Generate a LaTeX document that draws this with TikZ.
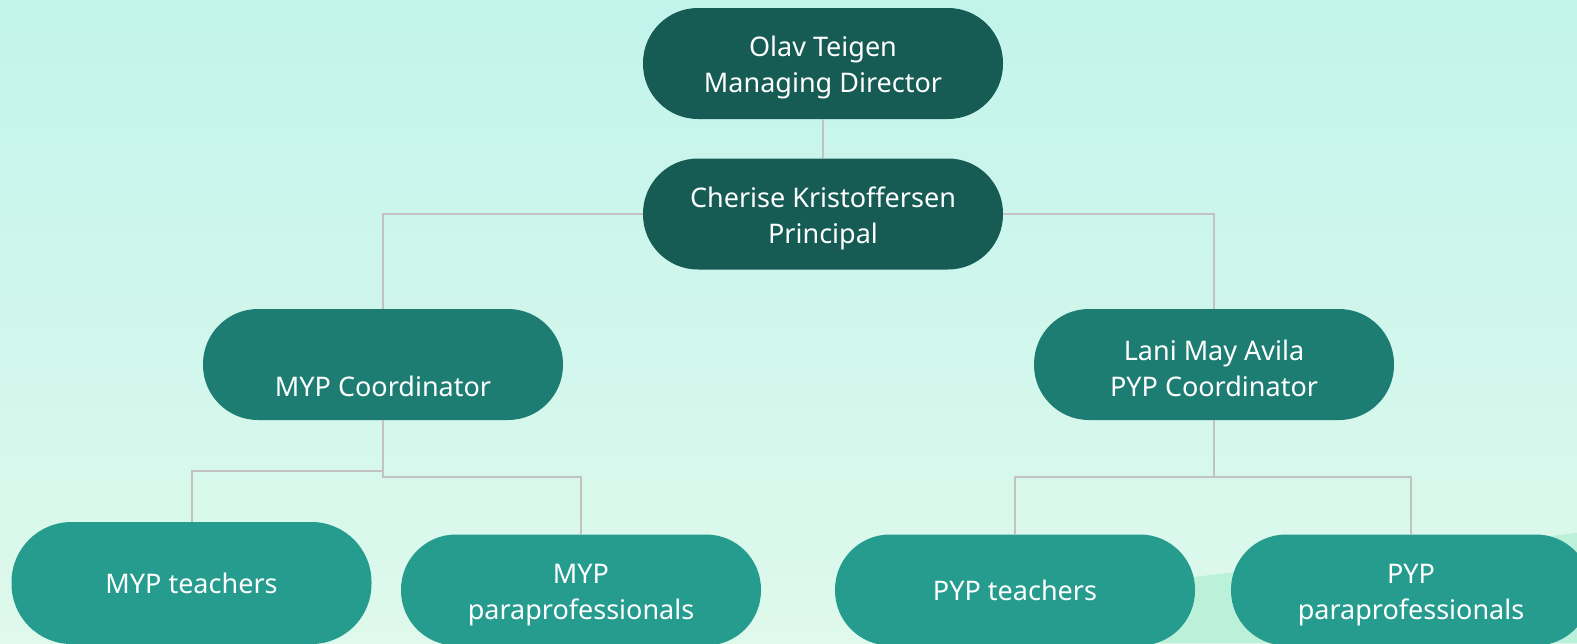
\documentclass[tikz,border=0pt]{standalone}
\usepackage{fontspec}
\setmainfont{Noto Sans}
\usetikzlibrary{calc}
\definecolor{bgtop}{HTML}{C2F4EC}
\definecolor{bgbot}{HTML}{DFF9EC}
\definecolor{wedge}{HTML}{BBF1D8}
\definecolor{lvlone}{HTML}{165C55}
\definecolor{lvltwo}{HTML}{1D7D72}
\definecolor{lvlthree}{HTML}{269C8F}
\definecolor{linkgray}{HTML}{C2C2C2}
% taller first line keeps two-line labels optically centred
\newcommand\firstline{\rule{0pt}{28.5pt}}
\tikzset{
  card/.style={rectangle, minimum width=360pt, minimum height=111pt,
    rounded corners=55pt, text=white, align=center, inner sep=0pt,
    font=\fontsize{27pt}{36pt}\selectfont},
  topcard/.style={card, fill=lvlone},
  midcard/.style={card, fill=lvltwo},
  lowcard/.style={card, fill=lvlthree},
  link/.style={draw=linkgray, line width=2pt}
}
\begin{document}
\begin{tikzpicture}[x=1pt, y=-1pt]
\useasboundingbox (0,0) rectangle (1577,643);
% backdrop
\shade[top color=bgtop, bottom color=bgbot] (0,0) rectangle (1577,643);
\fill[wedge] (950,605) -- (1577,533) -- (1577,643) -- (950,643) -- cycle;

% nodes
\node[topcard] (dir)  at (823,63.5) {\firstline Olav Teigen\\Managing Director};
\node[topcard] (prin) at (823,214)  {\firstline Cherise Kristoffersen\\Principal};
\node[midcard] (mypc) at (383,364.5) {\firstline\\MYP Coordinator};
\node[midcard] (pypc) at (1214,364.5) {\firstline Lani May Avila\\PYP Coordinator};
\node[lowcard, minimum height=122pt, rounded corners=60pt] (mypt) at (191.5,583) {MYP teachers};
\node[lowcard] (myppara) at (581,590) {\firstline MYP\\paraprofessionals};
\node[lowcard] (pypt) at (1015,590) {PYP teachers};
\node[lowcard] (pyppara) at (1411,590) {\firstline PYP\\paraprofessionals};

% connectors
\draw[link] (dir) -- (prin);
\draw[link] (prin.west) -| (mypc.north);
\draw[link] (prin.east) -| (pypc.north);
\draw[link] (mypc.south) -- (mypc.south |- 0,471) -| (mypt.north);
\draw[link] (mypc.south) -- (mypc.south |- 0,477) -| (myppara.north);
\draw[link] (pypc.south) -- (pypc.south |- 0,477) -| (pypt.north);
\draw[link] (pypc.south) -- (pypc.south |- 0,477) -| (pyppara.north);
\end{tikzpicture}
\end{document}
